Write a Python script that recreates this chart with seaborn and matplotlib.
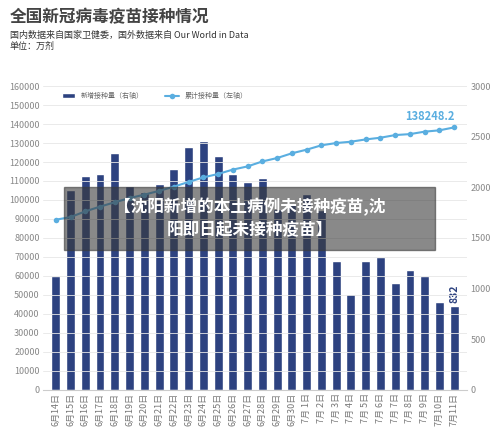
import numpy as np
import pandas as pd
import matplotlib
matplotlib.use("Agg")
import matplotlib.pyplot as plt
import seaborn as sns
from matplotlib.patches import Rectangle

sns.set_style("white")
plt.rcParams['font.family'] = ['Noto Sans CJK SC', 'DejaVu Sans']

dates = ["6月14日", "6月15日", "6月16日", "6月17日", "6月18日", "6月19日", "6月20日",
         "6月21日", "6月22日", "6月23日", "6月24日", "6月25日", "6月26日", "6月27日",
         "6月28日", "6月29日", "6月30日", "7月 1日", "7月 2日", "7月 3日", "7月 4日",
         "7月 5日", "7月 6日", "7月 7日", "7月 8日", "7月 9日", "7月10日", "7月11日"]
# 新增接种量（万剂，右轴）
daily = [1125, 1978, 2109, 2128, 2344, 2016, 1950, 2034, 2184, 2400, 2456, 2306,
         2128, 2053, 2091, 1790, 1840, 1931, 1780, 1275, 947, 1275, 1313, 1059,
         1181, 1125, 872, 832]
# 累计接种量（万剂，左轴）
total = [89600, 91000, 94000, 96500, 98800, 101000, 102800, 104800, 107000, 109500,
         111900, 113700, 116000, 117700, 120300, 122100, 124600, 126500, 128800,
         130000, 130700, 131900, 132800, 134200, 134700, 136000, 136700, 138248.2]

df = pd.DataFrame({"date": dates, "daily": daily, "total": total})

bar_c = "#2d4280"
line_c = "#5aaee0"
grey = "#888888"

fig = plt.figure(figsize=(5, 4.37), dpi=100)
ax = fig.add_axes([0.085, 0.108, 0.85, 0.695])
ax2 = ax.twinx()
ax.set_zorder(ax2.get_zorder() + 1)
ax.patch.set_visible(False)

sns.barplot(data=df, x="date", y="daily", color=bar_c, width=0.6, ax=ax2,
            saturation=1, label="新增接种量（右轴）")
sns.lineplot(x=np.arange(len(dates)), y=df["total"], color=line_c, marker="o",
             markersize=4, markeredgewidth=0, lw=1.5, ax=ax, label="累计接种量（左轴）")

ax.set_ylim(0, 160000)
ax.set_yticks(np.arange(0, 160001, 10000))
ax2.set_ylim(0, 3000)
ax2.set_yticks(np.arange(0, 3001, 500))
ax.set_xlim(-0.9, len(dates) - 0.1)
ax.set_xticks(range(len(dates)))
ax.set_xticklabels(dates, rotation=90)
ax2.set_xticks(range(len(dates)))
ax.set_xlabel("")
ax.set_ylabel("")
ax2.set_ylabel("")
ax.grid(axis="y", color="#e6e6e6", lw=0.6)
for a in (ax, ax2):
    for s in a.spines.values():
        s.set_visible(False)
    a.tick_params(length=0, labelsize=6.5, colors=grey, pad=2)
ax.spines["bottom"].set_visible(True)
ax.spines["bottom"].set_color("#cccccc")
ax.tick_params(axis="x", labelsize=6.5, colors="#777777")
ax2.tick_params(axis="x", labelbottom=False)

h1, l1 = ax2.get_legend_handles_labels()
h2, l2 = ax.get_legend_handles_labels()
if ax2.get_legend():
    ax2.get_legend().remove()
ax.legend(h1 + h2, l1 + l2, loc="upper left", bbox_to_anchor=(0.03, 1.0), ncol=2,
          frameon=False, fontsize=5, labelcolor="#666666", handlelength=2, columnspacing=3)

ax.text(len(dates) - 1, total[-1] + 2500, f"{total[-1]}", color=line_c, fontsize=8,
        ha="right", va="bottom", fontweight="bold")
ax2.text(len(dates) - 1, daily[-1] + 30, f"{daily[-1]}", color=bar_c, fontsize=7.5,
         ha="center", va="bottom", rotation=90, fontweight="bold")

fig.text(0.02, 0.96, "全国新冠病毒疫苗接种情况", fontsize=12, fontweight="bold",
         color="#444444", va="center")
fig.text(0.02, 0.92, "国内数据来自国家卫健委，国外数据来自 Our World in Data", fontsize=6.5,
         color="#333333", va="center")
fig.text(0.02, 0.893, "单位：万剂", fontsize=6.5, color="#333333", va="center")

fig.patches.append(Rectangle((0.128, 0.428), 0.742, 0.144, transform=fig.transFigure,
                             color="#3a3a3a", alpha=0.6, zorder=10))
fig.text(0.5, 0.5, "【沈阳新增的本土病例未接种疫苗,沈\n阳即日起未接种疫苗】", ha="center",
         va="center", fontsize=12, fontweight="bold", color="white", zorder=11,
         linespacing=1.4)

fig.savefig("out.png", dpi=100)
